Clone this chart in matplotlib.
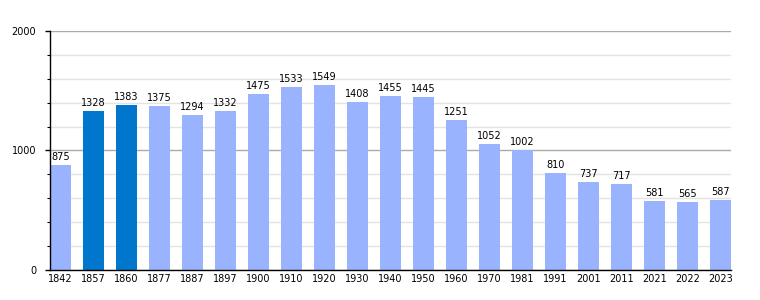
import matplotlib.pyplot as plt
import numpy as np
from matplotlib.ticker import MultipleLocator

years = ["1842", "1857", "1860", "1877", "1887", "1897", "1900", "1910", "1920", "1930",
         "1940", "1950", "1960", "1970", "1981", "1991", "2001", "2011", "2021", "2022", "2023"]
population = [875, 1328, 1383, 1375, 1294, 1332, 1475, 1533, 1549, 1408,
              1455, 1445, 1251, 1052, 1002, 810, 737, 717, 581, 565, 587]
highlight = ["1857", "1860"]

c_light = "#99b3ff"
c_dark = "#0077cc"

fig = plt.figure(figsize=(7.6, 3.0), dpi=100)
ax = fig.add_axes([0.0658, 0.1, 0.896, 0.797])

x = np.arange(len(years))
w = 0.65
colors = [c_dark if y in highlight else c_light for y in years]
ax.bar(x, population, width=w, color=colors, zorder=2)

for xi, v in zip(x, population):
    ax.text(xi, v + 25, str(v), ha="center", va="bottom", fontsize=7, zorder=3)

ax.set_xlim(-w / 2, len(years) - 1 + w / 2)
ax.set_ylim(0, 2000)
ax.set_xticks(x)
ax.set_xticklabels(years, fontsize=7)
ax.yaxis.set_major_locator(MultipleLocator(1000))
ax.yaxis.set_minor_locator(MultipleLocator(200))
ax.tick_params(axis="y", which="major", labelsize=7, length=3.6, width=1, pad=6.4)
ax.tick_params(axis="y", which="minor", length=2, width=0.8)
ax.tick_params(axis="x", length=0, pad=3)

ax.grid(axis="y", which="major", color="#aaaaaa", linewidth=1, zorder=0)
ax.grid(axis="y", which="minor", color="#e3e3e3", linewidth=1, zorder=0)
ax.set_axisbelow(True)

for s in ["top", "right"]:
    ax.spines[s].set_visible(False)
ax.spines["left"].set_linewidth(1)
ax.spines["bottom"].set_linewidth(1)

fig.savefig("out.png", dpi=100)
